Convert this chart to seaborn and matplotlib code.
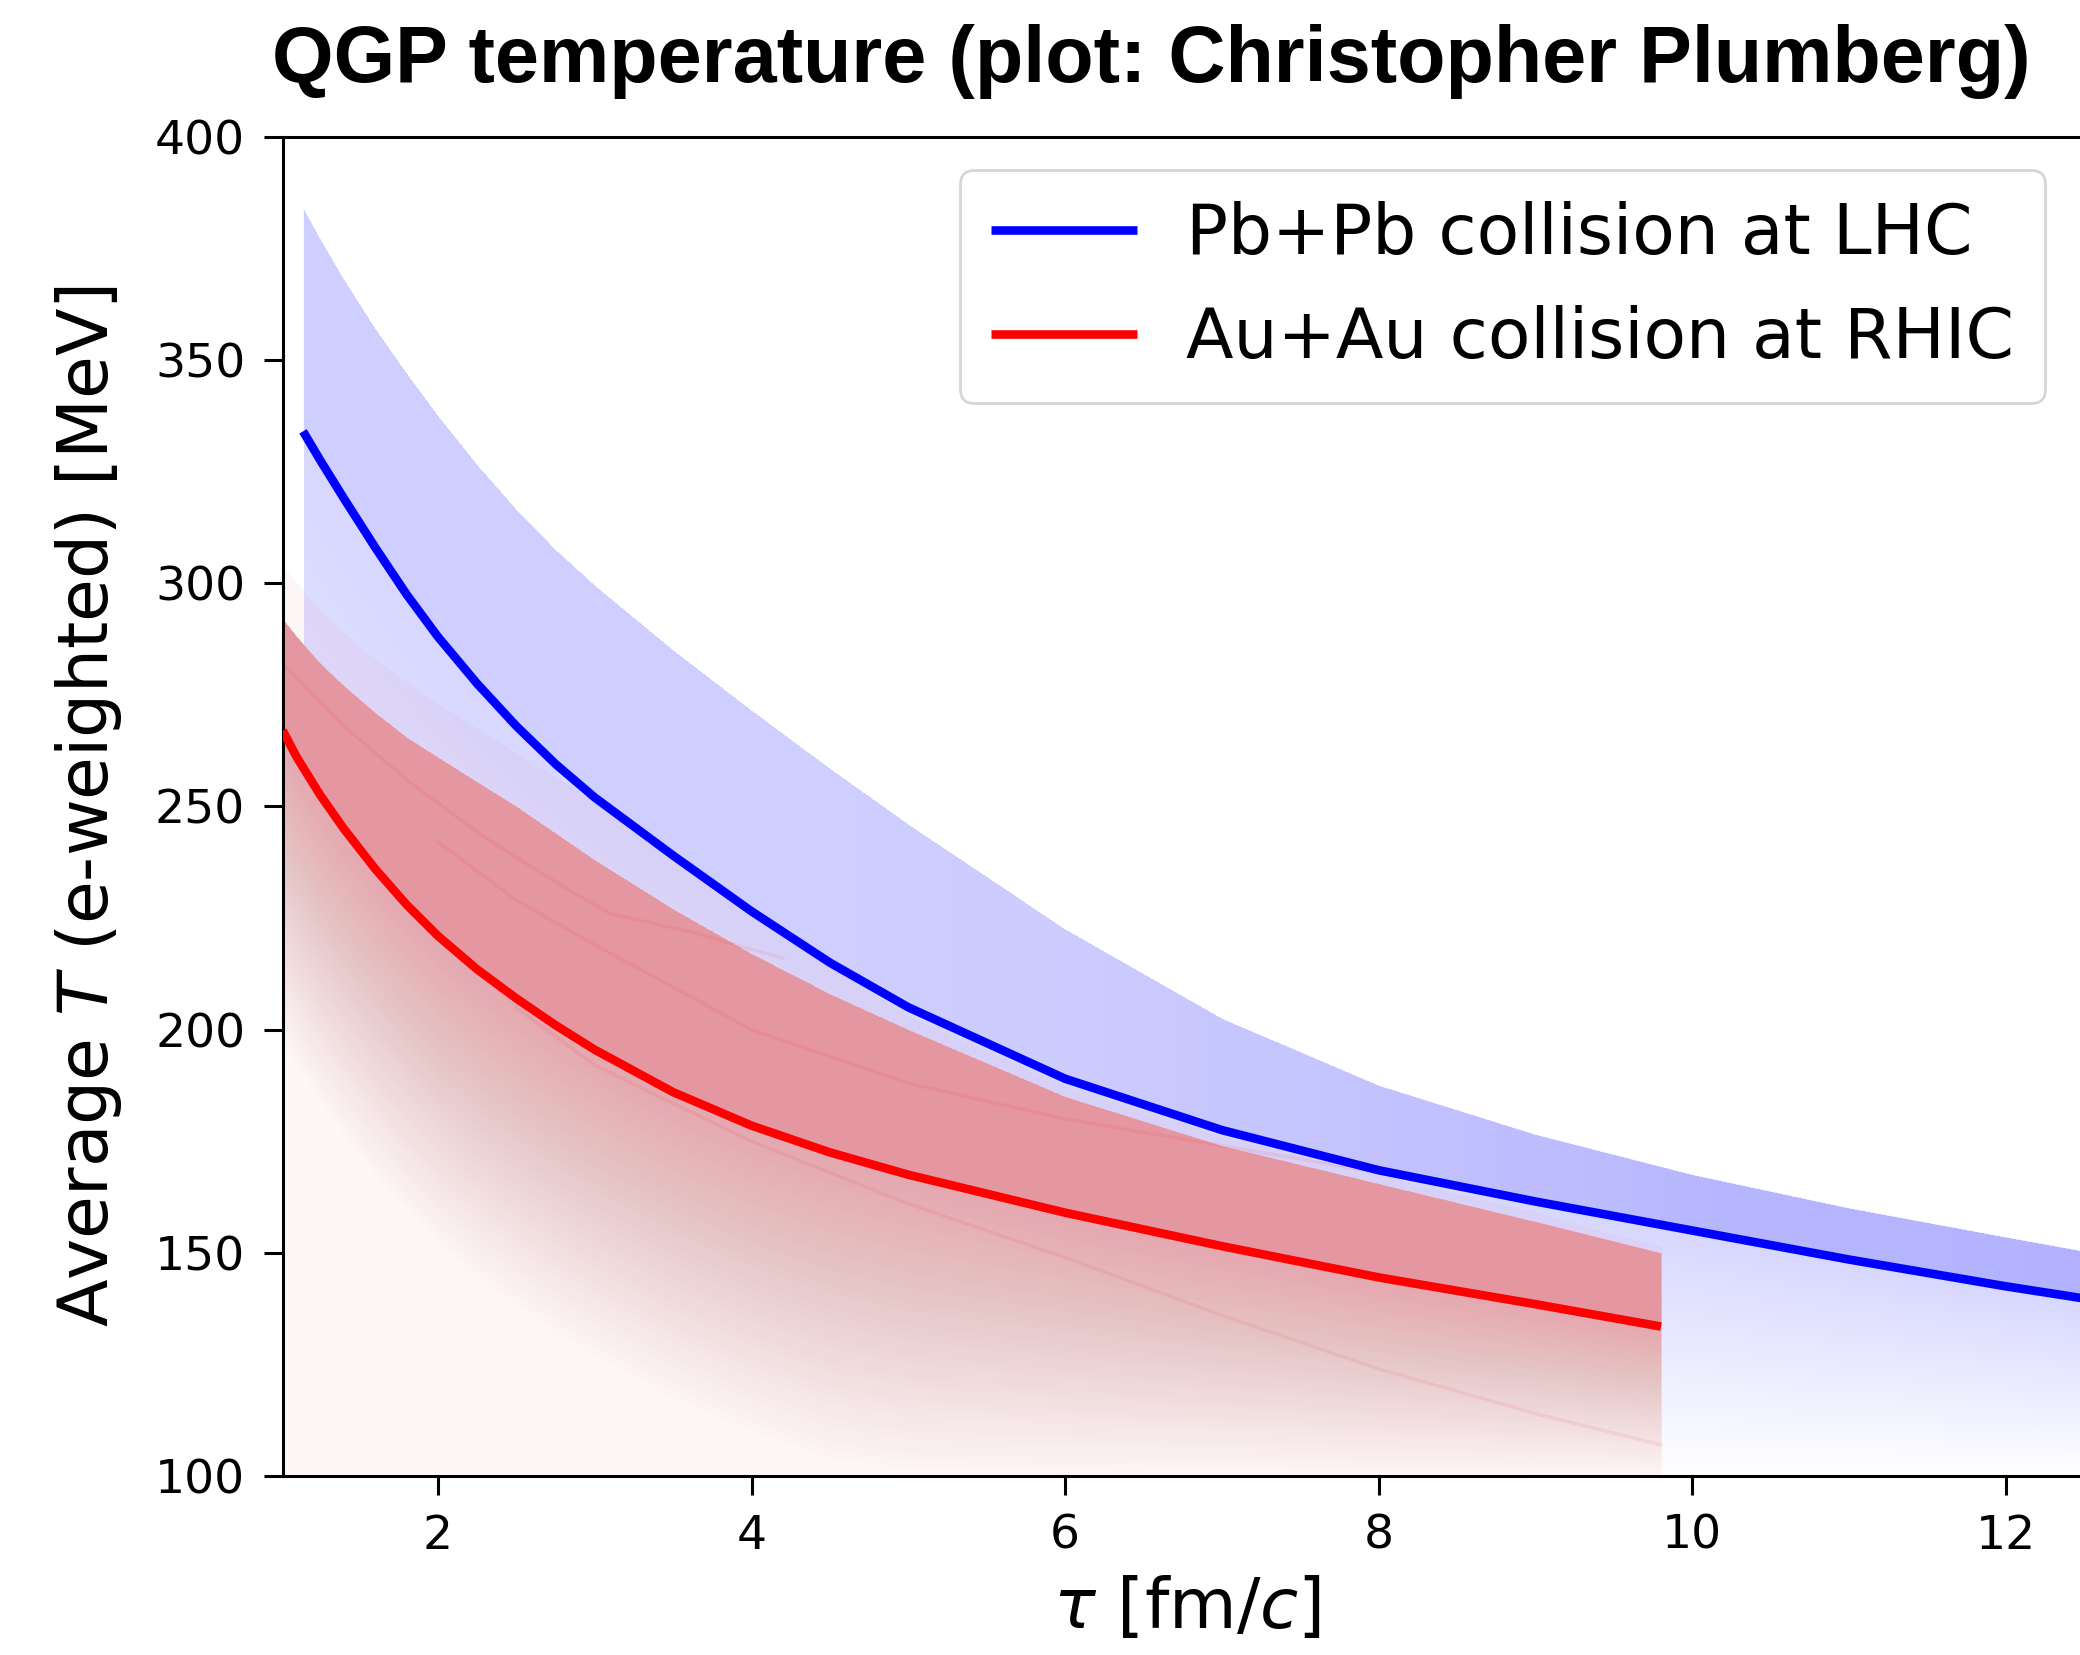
import numpy as np
import pandas as pd
import matplotlib
matplotlib.use("Agg")
import matplotlib.pyplot as plt
import seaborn as sns

#-------------DATOS-------------

# Pb+Pb (LHC): media y borde superior de la banda de eventos
lhc_tau = [1.14, 1.25, 1.4, 1.6, 1.8, 2.0, 2.25, 2.5, 2.75, 3.0, 3.5, 4.0, 4.5, 5.0,
           6.0, 7.0, 8.0, 9.0, 10.0, 11.0, 12.0, 12.55]
lhc_mean = [334, 327.5, 319, 308, 297.5, 288, 277.5, 268, 259.5, 252, 239, 226.5, 215,
            205, 189, 177.5, 168.5, 161.5, 155, 148.5, 142.5, 139.5]
lhc_upper = [384, 377, 368, 357, 347, 337.5, 326.5, 316.5, 307.5, 299.5, 285, 271.5,
             258.5, 246, 222.5, 202.5, 187.5, 176.5, 167.5, 160, 153.5, 150]

# Au+Au (RHIC): media, borde superior tenue y borde de la zona densa
rhic_tau = [1.01, 1.1, 1.25, 1.4, 1.6, 1.8, 2.0, 2.25, 2.5, 2.75, 3.0, 3.5, 4.0, 4.5,
            5.0, 6.0, 7.0, 8.0, 9.0, 9.8]
rhic_mean = [267, 261, 252.5, 245, 236, 228, 221, 213.5, 207, 201, 195.5, 186, 178.5,
             172.5, 167.5, 159, 151.5, 144.5, 138.5, 133.5]
rhic_upper = [304, 300, 294, 289, 283, 278, 273, 267.5, 262, 256.5, 251, 240, 227,
              214.5, 203, 187.5, 176, 167.5, 159, 151.5]
rhic_core = [292, 288, 282, 277, 271, 265.5, 261, 255.5, 250, 244, 238, 227, 217, 208,
             200, 185, 174, 165.5, 157, 150]

# algunas trazas de eventos individuales visibles en la banda roja
streak1_tau = [1.01, 1.4, 1.8, 2.3, 2.8, 3.1, 3.6, 4.2]
streak1_T = [282, 268, 256, 243, 232, 226, 222, 216]
streak2_tau = [2.0, 2.5, 3.0, 4.0, 5.0, 6.0, 7.0, 8.0, 9.0, 9.8]
streak2_T = [242, 229, 219, 200, 188, 180, 174, 168, 161, 156]
streak3_tau = [2.5, 3.0, 4.0, 5.0, 6.0, 7.0, 8.0, 9.0, 9.8]
streak3_T = [205, 192, 175, 161, 149, 136, 124, 114, 107]

labels = ["Pb+Pb collision at LHC", "Au+Au collision at RHIC"]
x_ticks = [2, 4, 6, 8, 10, 12]
y_ticks = [100, 150, 200, 250, 300, 350, 400]

#-------------ESTILO-------------
sns.set_theme(style="ticks")
plt.rcParams["font.family"] = ["DejaVu Sans"]
plt.rcParams["mathtext.fontset"] = "dejavusans"
plt.rcParams["text.color"] = "black"
plt.rcParams["axes.labelcolor"] = "black"

fig = plt.figure(figsize=(20.8, 16.55), dpi=100)
ax = fig.add_axes([0.1359, 0.1081, 0.86995, 0.8093])

x_lo, x_hi = 1.01, 12.55
floor = 100.0
n_layers = 40
mean_lw = 6.2
band_red = "#e52a3a"

#-------------BANDA AZUL (LHC)-------------
t_b = np.array(lhc_tau)
m_b = np.array(lhc_mean)
u_b = np.array(lhc_upper)
for k in range(1, n_layers + 1):
    lo = m_b - k / n_layers * (m_b - floor)
    ax.fill_between(t_b, lo, u_b, color="blue", alpha=0.004, lw=0, zorder=1)

# zona superior: más densa donde la banda se estrecha
band = ax.fill_between(t_b, m_b, u_b, color="none", lw=0, zorder=1)
tg = np.linspace(x_lo, x_hi, 800)
wg = np.interp(tg, t_b, u_b - m_b)
ag = np.clip(0.04 * 46 / wg, 0, 0.2)
rgba = np.zeros((2, len(tg), 4))
rgba[..., 2] = 1.0
rgba[..., 3] = ag
im = ax.imshow(rgba, extent=[x_lo, x_hi, floor, 400], aspect="auto", origin="lower",
               interpolation="bilinear", zorder=1)
im.set_clip_path(band.get_paths()[0], transform=ax.transData)

#-------------BANDA ROJA (RHIC)-------------
t_r = np.array(rhic_tau)
m_r = np.array(rhic_mean)
u_r = np.array(rhic_upper)
c_r = np.array(rhic_core)
# la banda roja tapa a la azul por debajo de su zona densa
ax.fill_between(t_r, floor, c_r, color="white", lw=0, zorder=2)
ax.fill_between(t_r, floor, c_r, color=band_red, alpha=0.035, lw=0, zorder=2)
ax.fill_between(t_r, m_r, u_r, color=band_red, alpha=0.04, lw=0, zorder=2)
ax.fill_between(t_r, m_r, c_r, color=band_red, alpha=0.12, lw=0, zorder=2)
fade = np.minimum(m_r - floor, 70)
for k in range(1, n_layers + 1):
    lo = m_r - k / n_layers * fade
    ax.fill_between(t_r, lo, c_r, color=band_red, alpha=0.008, lw=0, zorder=2)

for st, sT in [(streak1_tau, streak1_T), (streak2_tau, streak2_T), (streak3_tau, streak3_T)]:
    ax.plot(st, sT, color="red", alpha=0.07, lw=2.5, zorder=2)

#-------------CURVAS MEDIAS-------------
df_lhc = pd.DataFrame({"tau": lhc_tau, "T": lhc_mean})
df_rhic = pd.DataFrame({"tau": rhic_tau, "T": rhic_mean})
n_before = len(ax.lines)
sns.lineplot(data=df_lhc, x="tau", y="T", color="blue", linewidth=mean_lw, ax=ax,
             label=labels[0], sort=False, estimator=None, zorder=3)
sns.lineplot(data=df_rhic, x="tau", y="T", color="red", linewidth=mean_lw, ax=ax,
             label=labels[1], sort=False, estimator=None, zorder=3)
for ln in ax.lines[n_before:]:
    ln.set_linewidth(mean_lw)
    ln.set_solid_capstyle("butt")

#-------------EJES-------------
ax.set_xlim(x_lo, x_hi)
ax.set_ylim(100, 400)
ax.set_xticks(x_ticks)
ax.set_yticks(y_ticks)
ax.tick_params(labelsize=34, length=14, width=2.2, pad=13, direction="out",
               colors="black", labelcolor="black")
for s in ax.spines.values():
    s.set_linewidth(2.2)
    s.set_color("black")
ax.set_facecolor("white")

ax.set_xlabel(r"$\tau$ [fm/$c$]", fontsize=50, labelpad=12)
ax.set_ylabel(r"Average $T$ (e-weighted) [MeV]", fontsize=50, labelpad=22)

leg = ax.legend(loc="upper right", bbox_to_anchor=(2045 / 2080, 1 - 170 / 1655),
                bbox_transform=fig.transFigure, borderaxespad=0, fontsize=50,
                handlelength=2.1, handletextpad=0.7, borderpad=0.45, labelspacing=0.53,
                frameon=True, fancybox=True, framealpha=0.8, edgecolor="0.8")
leg.get_frame().set_linewidth(2)
for h in leg.legend_handles:
    h.set_linewidth(mean_lw)
for t in leg.get_texts():
    t.set_color("black")

fig.text(1151 / 2080, 1 - 82 / 1655, "QGP temperature (plot: Christopher Plumberg)",
         ha="center", va="baseline", fontsize=57, fontweight="bold", color="black",
         family=["Liberation Sans", "DejaVu Sans"])

fig.savefig("out.png", dpi=100)
